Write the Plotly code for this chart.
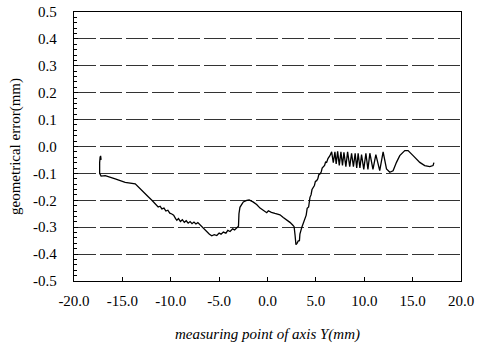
import plotly.graph_objects as go

# measuring point of axis Y (mm)
pos_mm = [
    -17.2, -17.25, -17.3, -17.35, -17.35, -17.2, -16.77, -15.74, -14.71, -13.67, -13.33,
    -12.64, -12.3, -11.95, -11.7, -11.5, -11.3, -11.1, -10.92, -10.7, -10.5, -10.3, -10.1,
    -9.89, -9.7, -9.5, -9.37, -9.2, -9.0, -8.8, -8.6, -8.4, -8.2, -8.0, -7.8, -7.6, -7.4,
    -7.2, -7.0, -6.8, -6.5, -6.27, -6.0, -5.76, -5.5, -5.24, -5.0, -4.8, -4.56, -4.3, -4.1,
    -3.87, -3.6, -3.4, -3.18, -3.0, -2.95, -2.85, -2.66, -2.5, -2.15, -1.9, -1.5, -1.12,
    -0.77, -0.43, -0.08, 0.09, 0.4, 0.77, 1.29, 1.63, 2.0, 2.32, 2.6, 2.75, 2.85, 2.94,
    3.05, 3.18, 3.3, 3.35, 3.55, 3.7, 3.87, 4.0, 4.1, 4.25, 4.39, 4.5, 4.6, 4.73, 4.85,
    4.95, 5.08, 5.2, 5.3, 5.42, 5.55, 5.65, 5.76, 5.9, 6.0, 6.11, 6.25, 6.35, 6.45,
    6.63, 6.8, 6.97, 7.1, 7.25, 7.42, 7.59, 7.75, 7.9, 8.1, 8.28, 8.5, 8.69, 8.88, 9.06,
    9.22, 9.37, 9.55, 9.72, 9.95, 10.17, 10.38, 10.58, 10.9, 11.2, 11.6, 11.95, 12.3,
    12.64, 12.98, 13.33, 13.67, 14.19, 14.53, 15.05, 15.74, 16.25, 16.77, 17.11, 17.2,
]

# geometrical error (mm)
error_mm = [
    -0.05, -0.035, -0.04, -0.06, -0.1, -0.11, -0.108, -0.12, -0.133, -0.139, -0.152,
    -0.176, -0.188, -0.2, -0.21, -0.215, -0.225, -0.222, -0.232, -0.229, -0.24, -0.237, -0.248,
    -0.251, -0.255, -0.268, -0.274, -0.268, -0.279, -0.272, -0.282, -0.276, -0.285, -0.279, -0.287, -0.281, -0.288,
    -0.283, -0.29, -0.3, -0.31, -0.316, -0.326, -0.332, -0.328, -0.331, -0.322, -0.326, -0.318, -0.322, -0.312,
    -0.316, -0.306, -0.31, -0.303, -0.296, -0.25, -0.226, -0.215, -0.206, -0.2, -0.199, -0.206, -0.216,
    -0.229, -0.238, -0.246, -0.239, -0.245, -0.249, -0.254, -0.264, -0.272, -0.282, -0.292, -0.298, -0.33, -0.365,
    -0.36, -0.351, -0.35, -0.326, -0.3, -0.285, -0.264, -0.255, -0.23, -0.225, -0.189, -0.18, -0.16, -0.152, -0.145,
    -0.13, -0.127, -0.12, -0.105, -0.102, -0.095, -0.08, -0.077, -0.07, -0.058, -0.059, -0.045, -0.04, -0.034,
    -0.02, -0.06, -0.02, -0.065, -0.018, -0.07, -0.02, -0.07, -0.022, -0.075, -0.02, -0.075, -0.025, -0.075, -0.025,
    -0.08, -0.025, -0.08, -0.03, -0.085, -0.025, -0.085, -0.025, -0.085, -0.03, -0.09, -0.02, -0.083,
    -0.096, -0.09, -0.059, -0.034, -0.015, -0.015, -0.034, -0.059, -0.071, -0.075, -0.071, -0.06,
]

x_ticks = [-20, -15, -10, -5, 0, 5, 10, 15, 20]
x_tick_labels = ["-20.0", "-15.0", "-10.0", "-5.0", "0.0", "5.0", "10.0", "15.0", "20.0"]
y_ticks = [0.5, 0.4, 0.3, 0.2, 0.1, 0.0, -0.1, -0.2, -0.3, -0.4, -0.5]
y_tick_labels = ["0.5", "0.4", "0.3", "0.2", "0.1", "0.0", "-0.1", "-0.2", "-0.3", "-0.4", "-0.5"]

serif = "Liberation Serif"

fig = go.Figure()
fig.add_trace(go.Scatter(
    x=pos_mm, y=error_mm, mode="lines",
    line=dict(color="black", width=1.3),
    showlegend=False,
))

fig.update_layout(
    width=478, height=343,
    margin=dict(l=74, r=17, t=12, b=62),
    paper_bgcolor="white", plot_bgcolor="white",
    font=dict(family=serif, size=15, color="black"),
)
fig.update_xaxes(
    range=[-20, 20], tickvals=x_ticks, ticktext=x_tick_labels,
    showgrid=False, zeroline=False, automargin=False,
    showline=True, linecolor="black", linewidth=1.3, mirror=True,
    ticks="inside", ticklen=4, tickcolor="black", ticklabelstandoff=6,
    title=dict(text="<i>measuring point of axis Y(mm)</i>", font=dict(family=serif, size=15), standoff=20),
    tickfont=dict(family=serif, size=15),
)
fig.update_yaxes(
    range=[-0.5, 0.5], tickvals=y_ticks, ticktext=y_tick_labels,
    showgrid=True, gridcolor="#333", gridwidth=1.2, griddash="22px,4px",
    zeroline=False, automargin=False, ticklabeloverflow="allow",
    showline=True, linecolor="black", linewidth=1.3, mirror=True,
    ticks="inside", ticklen=4, tickcolor="black", ticklabelstandoff=13,
    minor=dict(dtick=0.02, ticks="inside", ticklen=3, tickcolor="black", showgrid=False),
    title=dict(text="geometrical error(mm)", font=dict(family=serif, size=15), standoff=8),
    tickfont=dict(family=serif, size=15),
)

fig.write_html(
    "out.html",
    config={"displayModeBar": False},
    post_script="document.body.style.margin='0';document.body.style.overflow='hidden';",
)
